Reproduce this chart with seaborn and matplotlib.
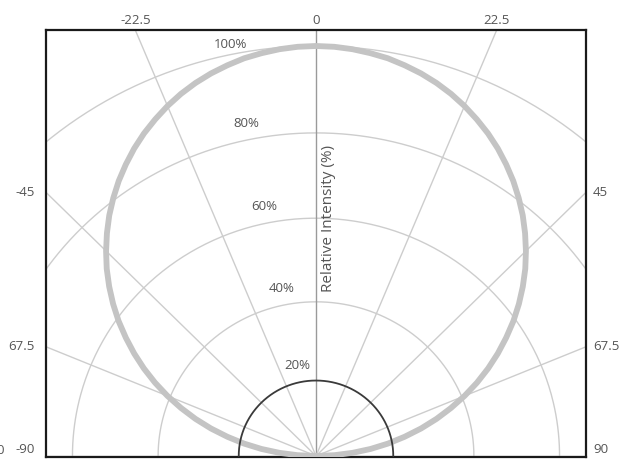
import numpy as np
import pandas as pd
import matplotlib
matplotlib.use("Agg")
import matplotlib.pyplot as plt
import seaborn as sns

# measured beam: angle from the optical axis (deg) vs relative intensity (%)
angles = list(np.arange(-90, 92.5, 2.5))
intensity = [0, 4.4, 8.7, 13.1, 17.4, 21.6, 25.9, 30.1, 34.2, 38.3, 42.3, 46.2,
             50.0, 53.7, 57.4, 60.9, 64.3, 67.6, 70.7, 73.7, 76.6, 79.3, 81.9, 84.3,
             86.6, 88.7, 90.6, 92.4, 94.0, 95.4, 96.6, 97.6, 98.5, 99.1, 99.6, 99.9,
             100.0,
             99.9, 99.6, 99.1, 98.5, 97.6, 96.6, 95.4, 94.0, 92.4, 90.6, 88.7, 86.6,
             84.3, 81.9, 79.3, 76.6, 73.7, 70.7, 67.6, 64.3, 60.9, 57.4, 53.7, 50.0,
             46.2, 42.3, 38.3, 34.2, 30.1, 25.9, 21.6, 17.4, 13.1, 8.7, 4.4, 0]

# grid rings as drawn in the picture (first one is the dark arc)
ring_levels = [18.4, 37.6, 58.0, 78.8, 100.0]
ring_labels = ["20%", "40%", "60%", "80%", "100%"]
spoke_angles = [-90, -67.5, -45, -22.5, 0, 22.5, 45, 67.5, 90]
spoke_labels = ["-90", "67.5", "-45", "-22.5", "0", "22.5", "45", "67.5", "90"]

XLIM = 64.3
YTOP = 103.9
TXT = "#555555"

sns.set_style("white")
plt.rcParams["font.family"] = ["Open Sans", "DejaVu Sans"]

fig = plt.figure(figsize=(6.37, 4.59), dpi=100)
ax = fig.add_axes([46 / 637, 1 - 457 / 459, 540 / 637, 427 / 459])

# rings
t = np.radians(np.linspace(-90, 90, 361))
for lev in ring_levels[1:]:
    ax.plot(lev * np.sin(t), lev * np.cos(t), color="#cdcdcd", lw=1.0, zorder=1)

# spokes
for a in spoke_angles:
    r = np.radians(a)
    c = "#9a9a9a" if a == 0 else "#cdcdcd"
    ax.plot([0, 200 * np.sin(r)], [0, 200 * np.cos(r)], color=c, lw=1.0, zorder=1)

# beam pattern
df = pd.DataFrame({"angle": angles, "intensity": intensity})
df["x"] = df["intensity"] * np.sin(np.radians(df["angle"]))
df["y"] = df["intensity"] * np.cos(np.radians(df["angle"]))
sns.lineplot(data=df, x="x", y="y", sort=False, color="#c4c4c4", lw=4.2,
             ax=ax, zorder=3, estimator=None, solid_joinstyle="round")

# innermost ring, drawn dark
ref = pd.DataFrame({"x": ring_levels[0] * np.sin(t), "y": ring_levels[0] * np.cos(t)})
sns.lineplot(data=ref, x="x", y="y", sort=False, color="#3a3a3a", lw=1.3,
             ax=ax, zorder=4, estimator=None)

# ring labels along the -11.5 deg direction
la = np.radians(-11.5)
for lev, lab in zip(ring_levels, ring_labels):
    rr = min(lev + 4.0, 102.3)
    ax.text(rr * np.sin(la), rr * np.cos(la), lab, ha="center", va="center",
            fontsize=9.5, color=TXT, zorder=5)

ax.text(3.0, 58, "Relative Intensity (%)", rotation=90, ha="center", va="center",
        fontsize=11, color=TXT, zorder=5)

# angle labels where each spoke meets the frame
for a, lab in zip(spoke_angles, spoke_labels):
    r = np.radians(a)
    s, c = np.sin(r), np.cos(r)
    if c > 1e-6 and abs(s) * YTOP / c < XLIM:
        ax.annotate(lab, (YTOP * s / c, YTOP), xytext=(0, 2.5), textcoords="offset points",
                    ha="center", va="bottom", fontsize=9.5, color=TXT,
                    annotation_clip=False)
    else:
        yy = max(XLIM * c / abs(s), 1.5)
        if s < 0:
            ax.annotate(lab, (-XLIM, yy), xytext=(-8, 0), textcoords="offset points",
                        ha="right", va="center", fontsize=9.5, color=TXT,
                        annotation_clip=False)
        else:
            ax.annotate(lab, (XLIM, yy), xytext=(5, 0), textcoords="offset points",
                        ha="left", va="center", fontsize=9.5, color=TXT,
                        annotation_clip=False)

fig.text(4 / 637, 1 - 450 / 459, "0", ha="right", va="center", fontsize=9.5, color=TXT)

ax.set_xlim(-XLIM, XLIM)
ax.set_ylim(-0.25, YTOP)
ax.set_xticks([])
ax.set_yticks([])
ax.set_xlabel("")
ax.set_ylabel("")
for sp in ax.spines.values():
    sp.set_visible(True)
    sp.set_color("#1a1a1a")
    sp.set_linewidth(1.6)

fig.savefig("out.png", dpi=100)
